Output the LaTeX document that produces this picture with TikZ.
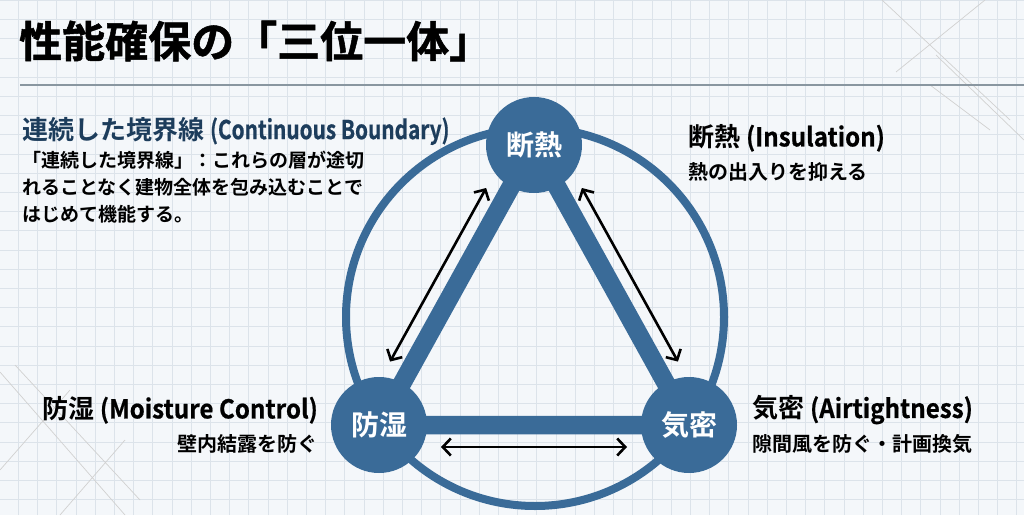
\documentclass[tikz,border=0pt]{standalone}
\usepackage{fontspec}
\usetikzlibrary{arrows.meta, calc, backgrounds}

\newfontfamily\jpfont{Noto Sans CJK JP Bold}
\newfontfamily\titlefont{Noto Sans CJK JP Bold}[FakeBold = 1.2]
\newfontfamily\latfont{Noto Sans CJK JP Bold}[FakeStretch = 0.8, FakeBold = 0.6]
\newfontfamily\termfont{Noto Sans CJK JP Bold}[FakeStretch = 0.93, FakeBold = 0.6]

\definecolor{hubblue}{HTML}{3A6B98}
\definecolor{navy}{HTML}{1D3D5C}
\definecolor{paper}{HTML}{F4F7FA}
\definecolor{gridline}{HTML}{DCE3EA}
\definecolor{rulegray}{HTML}{8996A0}

\begin{document}
\begin{tikzpicture}[x = 1pt, y = 1pt, > = {Straight Barb[length = 8pt, width = 17pt]},
	hub/.style = {circle, fill = hubblue, minimum size = 96pt, inner sep = 0pt, text = white, font = \jpfont\fontsize{28}{28}\selectfont},
	bar/.style = {hubblue, line width = 18.5pt},
	ring/.style = {hubblue, line width = 8pt},
	flow/.style = {<->, line width = 2.6pt},
	sketch/.style = {black!18, line width = 0.7pt},
	term/.style = {inner sep = 0pt, font = \jpfont\fontsize{26}{26}\selectfont},
	gloss/.style = {inner sep = 0pt, font = \jpfont\fontsize{20}{20}\selectfont}]

\useasboundingbox (0, 0) rectangle (1024, 515);

\node [hub] (insul) at (534, 370) {断熱};
\node [hub] (moist) at (379, 90) {防湿};
\node [hub] (air) at (689, 90) {気密};

\begin{scope}[on background layer]
	\fill [paper] (0, 0) rectangle (1024, 515);
	\foreach \gx in {0, ..., 52}
		\draw [gridline, line width = 0.8pt] ({18.3 + 19.2*\gx}, 0) -- ++(0, 515);
	\foreach \gy in {0, ..., 26}
		\draw [gridline, line width = 0.8pt] (0, {514.6 - 19.2*\gy}) -- ++(1024, 0);

	\draw [sketch] (882, 515) -- (1010, 395);
	\draw [sketch] (896, 443) -- (985, 515);
	\draw [sketch] (936, 460) -- (1024, 375);
	\draw [sketch] (930, 430) -- (990, 385);
	\draw [sketch] (0, 143) -- (125, 0);
	\draw [sketch] (15, 150) -- (140, 15);
	\draw [sketch] (0, 45) -- (70, 125);
	\draw [sketch] (60, 0) -- (125, 75);

	\draw [rulegray, line width = 2pt] (20, 430) -- (1024, 430);

	\draw [ring] (535, 198) circle [radius = 189];
	\draw [bar] (insul.center) -- (moist.center) -- (air.center) -- cycle;
\end{scope}

\draw [flow] ($(moist.center)!0.19!(insul.center) + (-18.4, 10.2)$) -- ($(moist.center)!0.81!(insul.center) + (-18.4, 10.2)$);
\draw [flow] ($(insul.center)!0.19!(air.center) + (18.4, 10.2)$) -- ($(insul.center)!0.81!(air.center) + (18.4, 10.2)$);
\draw [flow] ($(air.center)!0.2!(moist.center) + (0, -22)$) -- ($(air.center)!0.8!(moist.center) + (0, -22)$);

\node [anchor = west, inner sep = 0pt, font = \titlefont\fontsize{43}{43}\selectfont] (title) at (19, 474) {性能確保の「三位一体」};

\node [term, anchor = west, text = navy] (bound) at (22, 384) {連続した境界線 {\latfont (Continuous Boundary)}};
\node [anchor = north west, align = left, inner sep = 0pt, font = \jpfont\fontsize{19}{27}\selectfont] (boundnote) at (22, 364) {「連続した境界線」：これらの層が途切\\れることなく建物全体を包み込むことで\\はじめて機能する。};

\node [term, anchor = west] (insulterm) at (688, 377) {断熱 {\termfont (Insulation)}};
\node [gloss, anchor = west] (insulnote) at (688, 343) {熱の出入りを抑える};

\node [term, anchor = east] (moistterm) at (318, 105) {防湿 {\termfont (Moisture Control)}};
\node [gloss, anchor = east] (moistnote) at (318, 71) {壁内結露を防ぐ};

\node [term, anchor = west] (airterm) at (752, 105) {気密 {\termfont (Airtightness)}};
\node [gloss, anchor = west] (airnote) at (752, 71) {隙間風を防ぐ・計画換気};

\end{tikzpicture}
\end{document}
